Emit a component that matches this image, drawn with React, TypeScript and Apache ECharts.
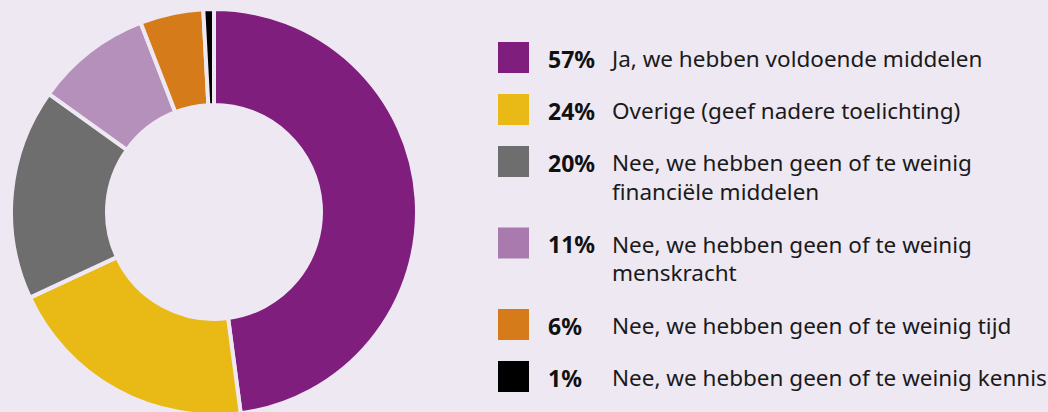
import React, { useEffect, useRef } from "react";
import * as echarts from "echarts";

const categories = [
  "Ja, we hebben voldoende middelen",
  "Overige (geef nadere toelichting)",
  "Nee, we hebben geen of te weinig financiële middelen",
  "Nee, we hebben geen of te weinig menskracht",
  "Nee, we hebben geen of te weinig tijd",
  "Nee, we hebben geen of te weinig kennis",
];
const legendLines = [
  ["Ja, we hebben voldoende middelen"],
  ["Overige (geef nadere toelichting)"],
  ["Nee, we hebben geen of te weinig", "financiële middelen"],
  ["Nee, we hebben geen of te weinig", "menskracht"],
  ["Nee, we hebben geen of te weinig tijd"],
  ["Nee, we hebben geen of te weinig kennis"],
];
const values = [57, 24, 20, 11, 6, 1];
const pieColors = ["#7f1e7c", "#e9b916", "#6e6e6e", "#b590bb", "#d67b1a", "#000000"];
const legendColors = ["#7f1e7c", "#e9b916", "#6e6e6e", "#a97aae", "#d67b1a", "#000000"];

const BG = "#eee8f2";
const FONT = "'Noto Sans', Roboto, sans-serif";

export default function App() {
  const ref = useRef<HTMLDivElement>(null);
  useEffect(() => {
    if (!ref.current) return;
    document.body.style.margin = "0";
    document.body.style.background = BG;
    const chart = echarts.init(ref.current, null, { renderer: "svg" });

    const graphics: any[] = [];
    let top = 42;
    values.forEach((v, i) => {
      const lines = legendLines[i];
      graphics.push({
        type: "rect",
        shape: { x: 498, y: top, width: 31, height: 31 },
        style: { fill: legendColors[i] },
      });
      graphics.push({
        type: "text",
        x: 548,
        y: top + 16.5,
        style: {
          text: v + "%",
          font: "bold 23px " + FONT,
          fill: "#111",
          verticalAlign: "middle",
        },
      });
      lines.forEach((ln, j) => {
        graphics.push({
          type: "text",
          x: 612,
          y: top + 16.5 + j * 28.5,
          style: {
            text: ln,
            font: "22.5px " + FONT,
            fill: "#1a1a1a",
            verticalAlign: "middle",
          },
        });
      });
      top += 52 + (lines.length - 1) * 29.5;
    });

    chart.setOption({
      animation: false,
      backgroundColor: BG,
      series: [
        {
          type: "pie",
          center: [214, 212],
          radius: [107, 203],
          startAngle: 90,
          clockwise: true,
          label: { show: false },
          labelLine: { show: false },
          silent: true,
          itemStyle: { borderColor: BG, borderWidth: 4 },
          data: values.map((v, i) => ({
            name: categories[i],
            value: v,
            itemStyle: { color: pieColors[i] },
          })),
        },
      ],
      graphic: graphics,
    });
    return () => chart.dispose();
  }, []);
  return <div ref={ref} style={{ width: 1048, height: 412 }} />;
}
